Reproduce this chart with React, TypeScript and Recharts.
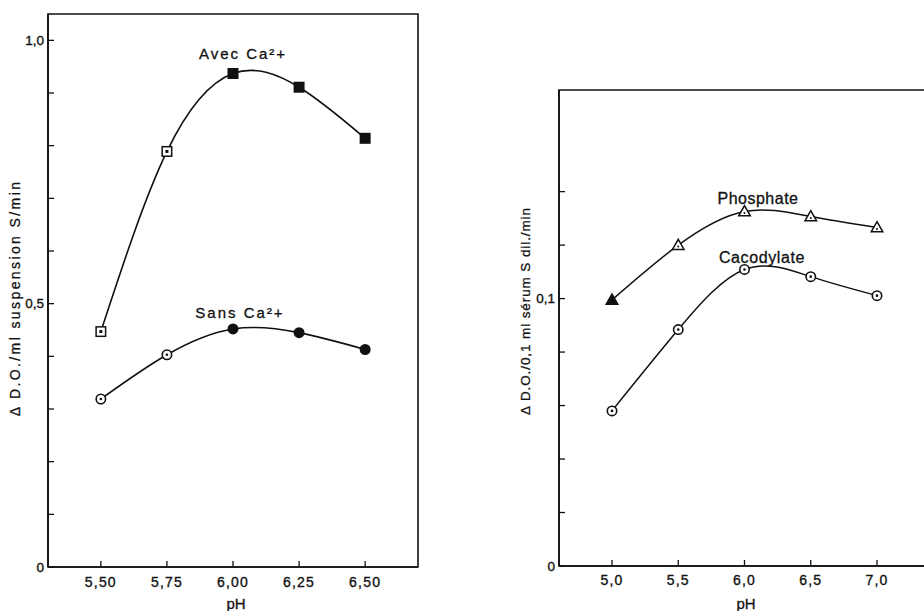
import React from 'react';
import { LineChart, Line, XAxis, YAxis, ReferenceArea } from 'recharts';

// ---- Left panel data ----
const phLeft = [5.5, 5.75, 6.0, 6.25, 6.5];
const avecCa = [0.447, 0.789, 0.937, 0.911, 0.814];
const sansCa = [0.319, 0.403, 0.452, 0.445, 0.413];
const leftXTicks = [5.5, 5.75, 6.0, 6.25, 6.5];
const leftYTicks = [0, 0.1, 0.2, 0.3, 0.4, 0.5, 0.6, 0.7, 0.8, 0.9, 1.0];
const leftYLabels: Record<string, string> = { '0': '0', '0.5': '0,5', '1': '1,0' };

// ---- Right panel data ----
const phRight = [5.0, 5.5, 6.0, 6.5, 7.0];
const phosphate = [0.0995, 0.12, 0.1326, 0.1307, 0.1266];
const cacodylate = [0.058, 0.0884, 0.1109, 0.1082, 0.1011];
const rightXTicks = [5.0, 5.5, 6.0, 6.5, 7.0];
const rightYTicks = [0, 0.02, 0.04, 0.06, 0.08, 0.1, 0.12, 0.14];
const rightYLabels: Record<string, string> = { '0': '0', '0.1': '0,1' };

const leftData = phLeft.map((x, i) => ({ x, avec: avecCa[i], sans: sansCa[i] }));
const rightData = phRight.map((x, i) => ({ x, phos: phosphate[i], caco: cacodylate[i] }));

// marker style (hollow = open symbol)
const avecHollow = [true, true, false, false, false];
const sansHollow = [true, true, false, false, false];
const phosHollow = [false, true, true, true, true];

const FONT = '"Liberation Sans", Arial, Helvetica, sans-serif';
const INK = '#111';

const makeYTick = (labels: Record<string, string>, margin: number) => (props: any) => {
  const { x, y, payload } = props;
  const ax = x + margin;
  const lbl = labels[String(payload.value)];
  return (
    <g>
      <line x1={ax} x2={ax + 6} y1={y} y2={y} stroke={INK} strokeWidth={1.3} />
      {lbl !== undefined && (
        <text x={ax - 4} y={y} textAnchor="end" dominantBaseline="central" fontSize={13.5}
          fontFamily={FONT} fill={INK} stroke={INK} strokeWidth={0.35}>
          {lbl}
        </text>
      )}
    </g>
  );
};

const makeXTick = (digits: number, margin: number) => (props: any) => {
  const { x, y, payload } = props;
  const ay = y - margin;
  return (
    <g>
      <line x1={x} x2={x} y1={ay} y2={ay - 6} stroke={INK} strokeWidth={1.3} />
      <text x={x} y={y} textAnchor="middle" dominantBaseline="central" fontSize={14} letterSpacing={1.2}
        fontFamily={FONT} fill={INK} stroke={INK} strokeWidth={0.35}>
        {Number(payload.value).toFixed(digits).replace('.', ',')}
      </text>
    </g>
  );
};

const squareDot = (hollow: boolean[]) => (p: any) => {
  const { cx, cy, index } = p;
  const h = hollow[index];
  const s = 9.5;
  return (
    <g key={`sq-${index}`}>
      <rect x={cx - s / 2} y={cy - s / 2} width={s} height={s} fill={h ? '#fff' : INK} stroke={INK} strokeWidth={1.5} />
      {h && <rect x={cx - 1.5} y={cy - 1.5} width={3} height={3} fill={INK} />}
    </g>
  );
};

const circleDot = (hollow: boolean[] | null) => (p: any) => {
  const { cx, cy, index } = p;
  const h = hollow ? hollow[index] : true;
  return (
    <g key={`ci-${index}`}>
      <circle cx={cx} cy={cy} r={4.7} fill={h ? '#fff' : INK} stroke={INK} strokeWidth={1.6} />
      {h && <circle cx={cx} cy={cy} r={1.3} fill={INK} />}
    </g>
  );
};

const triDot = (hollow: boolean[]) => (p: any) => {
  const { cx, cy, index } = p;
  const h = hollow[index];
  const r = 5.8;
  const pts = `${cx},${cy - r} ${cx + r},${cy + r * 0.75} ${cx - r},${cy + r * 0.75}`;
  return (
    <g key={`tr-${index}`}>
      <polygon points={pts} fill={h ? '#fff' : INK} stroke={INK} strokeWidth={1.5} />
      {h && <circle cx={cx} cy={cy + 1.5} r={1} fill={INK} />}
    </g>
  );
};

const txt = { fontFamily: FONT, fill: INK, stroke: INK, strokeWidth: 0.3 };

export default function App() {
  return (
    <div style={{ position: 'fixed', left: 0, top: 0, width: 924, height: 611, overflow: 'hidden', background: '#fff' }}>
      <div style={{ position: 'absolute', left: 0, top: 0 }}>
        <LineChart width={440} height={611} data={leftData} margin={{ top: 14, right: 22, bottom: 4, left: 8 }}>
          <XAxis
            dataKey="x"
            type="number"
            domain={[5.3, 6.7]}
            ticks={leftXTicks}
            allowDataOverflow
            height={40}
            tickSize={0}
            tickMargin={15}
            tickLine={false}
            axisLine={{ stroke: INK, strokeWidth: 1.6 }}
            tick={makeXTick(2, 15)}
            interval={0}
          />
          <YAxis
            type="number"
            domain={[0, 1.05]}
            ticks={leftYTicks}
            allowDataOverflow
            width={40}
            tickSize={0}
            tickMargin={4}
            tickLine={false}
            axisLine={{ stroke: INK, strokeWidth: 1.6 }}
            tick={makeYTick(leftYLabels, 4)}
            interval={0}
          />
          <ReferenceArea x1={5.3} x2={6.7} y1={0} y2={1.05} fill="none" stroke={INK} strokeWidth={1.6} ifOverflow="visible" />
          <Line type="natural" dataKey="avec" stroke={INK} strokeWidth={1.6} dot={squareDot(avecHollow)} isAnimationActive={false} />
          <Line type="natural" dataKey="sans" stroke={INK} strokeWidth={1.6} dot={circleDot(sansHollow)} isAnimationActive={false} />
        </LineChart>
      </div>
      <div style={{ position: 'absolute', left: 520, top: 0 }}>
        <LineChart width={440} height={611} data={rightData} margin={{ top: 90, right: 30, bottom: 5, left: 0 }}>
          <XAxis
            dataKey="x"
            type="number"
            domain={[4.6, 7.4]}
            ticks={rightXTicks}
            allowDataOverflow
            height={40}
            tickSize={0}
            tickMargin={14}
            tickLine={false}
            axisLine={{ stroke: INK, strokeWidth: 1.6 }}
            tick={makeXTick(1, 14)}
            interval={0}
          />
          <YAxis
            type="number"
            domain={[0, 0.178]}
            ticks={rightYTicks}
            allowDataOverflow
            width={39}
            tickSize={0}
            tickMargin={4}
            tickLine={false}
            axisLine={{ stroke: INK, strokeWidth: 1.6 }}
            tick={makeYTick(rightYLabels, 4)}
            interval={0}
          />
          <ReferenceArea x1={4.6} x2={7.4} y1={0} y2={0.178} fill="none" stroke={INK} strokeWidth={1.6} ifOverflow="visible" />
          <Line type="natural" dataKey="phos" stroke={INK} strokeWidth={1.5} dot={triDot(phosHollow)} isAnimationActive={false} />
          <Line type="natural" dataKey="caco" stroke={INK} strokeWidth={1.5} dot={circleDot(null)} isAnimationActive={false} />
        </LineChart>
      </div>
      <svg width={924} height={611} style={{ position: 'absolute', left: 0, top: 0, pointerEvents: 'none' }}>
        <g {...txt}>
          <text x={15} y={298} transform="rotate(-90 15 298)" textAnchor="middle" dominantBaseline="central" fontSize={14} letterSpacing={2.4}>
            Δ D.O./ml suspension S/min
          </text>
          <text x={525} y={311} transform="rotate(-90 525 311)" textAnchor="middle" dominantBaseline="central" fontSize={13.5} letterSpacing={0.9}>
            Δ D.O./0,1 ml sérum S dil./min
          </text>
          <text x={236} y={603} textAnchor="middle" dominantBaseline="central" fontSize={15}>pH</text>
          <text x={746} y={603} textAnchor="middle" dominantBaseline="central" fontSize={15}>pH</text>
          <text x={243} y={53} textAnchor="middle" dominantBaseline="central" fontSize={15} letterSpacing={2}>
            Avec  Ca²+
          </text>
          <text x={240} y={312} textAnchor="middle" dominantBaseline="central" fontSize={15} letterSpacing={2}>
            Sans  Ca²+
          </text>
          <text x={758} y={198} textAnchor="middle" dominantBaseline="central" fontSize={16} letterSpacing={0.5}>
            Phosphate
          </text>
          <text x={762} y={257} textAnchor="middle" dominantBaseline="central" fontSize={16} letterSpacing={0.6}>
            Cacodylate
          </text>
        </g>
      </svg>
    </div>
  );
}
